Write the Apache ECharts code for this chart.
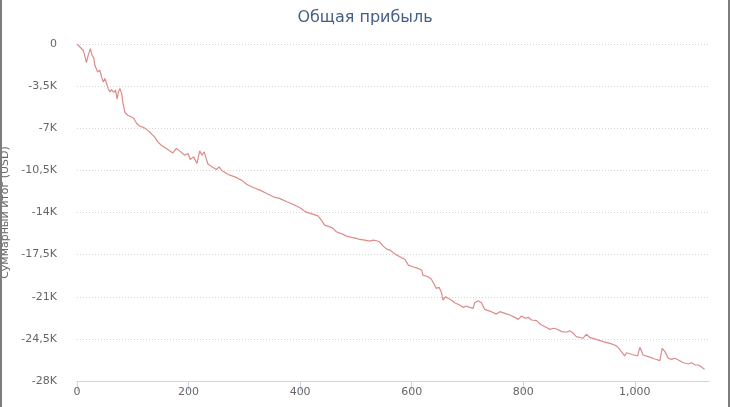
<!DOCTYPE html>
<html>
<head>
<meta charset="utf-8">
<script src="https://cdn.jsdelivr.net/npm/echarts@6/dist/echarts.min.js"></script>
<style>
  body { margin: 0; background: #fff; }
  #wrap { position: relative; width: 730px; height: 407px; overflow: hidden; }
  #chart { width: 730px; height: 407px; }
  .edge { position: absolute; top: 0; width: 2px; height: 407px; background: #7d7d7d; }
</style>
</head>
<body>
<div id="wrap">
  <div id="chart"></div>
  <div class="edge" style="left:0"></div>
  <div class="edge" style="right:0"></div>
</div>
<script>
  // trade number (x) and cumulative result in USD (y)
  var tradeNo = [0, 11, 13, 17, 20, 24, 27, 30, 32, 37, 41, 44, 47, 50, 53, 56, 59, 62, 66, 69,
    72, 74, 77, 80, 82, 86, 91, 98, 102, 107, 112, 121, 130, 139, 145, 151, 160, 172, 178, 184,
    193, 199, 203, 209, 215, 220, 224, 228, 232, 235, 244, 250, 255, 259, 268, 274, 283, 289, 295, 304,
    316, 328, 340, 355, 363, 376, 387, 399, 411, 432, 438, 444, 453, 459, 465, 477, 483, 492, 501, 507,
    516, 525, 531, 537, 542, 549, 555, 561, 570, 579, 588, 594, 602, 611, 618, 620, 629, 635, 641, 644,
    649, 653, 656, 661, 665, 671, 677, 686, 692, 698, 704, 710, 713, 719, 725, 731, 740, 752, 758, 767,
    776, 785, 791, 797, 803, 809, 815, 824, 830, 839, 848, 854, 860, 869, 878, 883, 890, 895, 907, 913,
    919, 931, 943, 955, 964, 970, 976, 982, 985, 994, 1005, 1009, 1015, 1024, 1036, 1045, 1049, 1054, 1060, 1066,
    1072, 1078, 1087, 1096, 1102, 1108, 1114, 1120, 1125];
  var cumProfit = [0, -520, -800, -1540, -940, -380, -940, -1160, -1770, -2320, -2180, -2740, -3150, -2870, -3010, -3700, -3980, -3790, -4030, -3840,
    -4590, -4030, -3700, -4120, -4810, -5690, -5920, -6060, -6190, -6610, -6810, -6970, -7300, -7720, -8130, -8410, -8680, -9050, -8680, -8880,
    -9240, -9100, -9600, -9380, -9930, -8880, -9240, -8960, -9600, -9990, -10260, -10430, -10210, -10480, -10760, -10900, -11040, -11170, -11310, -11650,
    -11920, -12140, -12420, -12750, -12830, -13110, -13310, -13580, -13970, -14280, -14630, -15050, -15190, -15320, -15600, -15820, -15960, -16070, -16150, -16240,
    -16290, -16380, -16290, -16350, -16430, -16790, -17040, -17120, -17460, -17680, -17900, -18370, -18510, -18640, -18780, -19200, -19340, -19530, -20030, -20300,
    -20220, -20580, -21270, -21000, -21130, -21270, -21500, -21690, -21880, -21770, -21880, -21960, -21500, -21330, -21500, -22050, -22190, -22440, -22240, -22380,
    -22520, -22710, -22880, -22600, -22790, -22710, -22930, -22990, -23270, -23490, -23710, -23620, -23680, -23900, -23950, -23820, -24040, -24320, -24450, -24120,
    -24370, -24540, -24730, -24870, -25010, -25200, -25560, -25920, -25650, -25780, -25920, -25200, -25840, -25980, -26170, -26310, -25280, -25560, -26110, -26200,
    -26110, -26250, -26480, -26590, -26480, -26670, -26670, -26860, -27030];
  var yTicks = [0, -3500, -7000, -10500, -14000, -17500, -21000, -24500, -28000];

  var points = tradeNo.map(function (x, i) { return [x, cumProfit[i]]; });

  function fmtK(v) {
    if (v === 0) return '0';
    return (v / 1000).toString().replace('.', ',') + 'K';
  }

  var chart = echarts.init(document.getElementById('chart'), null, { renderer: 'canvas' });
  chart.setOption({
    animation: false,
    textStyle: { fontFamily: 'DejaVu Sans' },
    title: {
      text: 'Общая прибыль',
      left: 'center',
      top: 5,
      textStyle: { fontSize: 16, fontWeight: 'normal', color: '#44608a', fontFamily: 'DejaVu Sans' }
    },
    grid: { left: 77, right: 21, top: 44, bottom: 26, outerBoundsMode: 'none', containLabel: false },
    xAxis: {
      type: 'value',
      min: 0,
      max: 1133,
      interval: 200,
      axisLine: { show: true, onZero: false, lineStyle: { color: '#ccd6eb', width: 1 } },
      axisTick: { show: true, length: 10, lineStyle: { color: '#ccd6eb' } },
      axisLabel: { color: '#666', fontSize: 11, margin: 6, showMaxLabel: false },
      splitLine: { show: false }
    },
    yAxis: {
      type: 'value',
      min: yTicks[yTicks.length - 1],
      max: yTicks[0],
      interval: 3500,
      name: 'Суммарный итог (USD)',
      nameLocation: 'middle',
      nameGap: 66,
      nameTextStyle: { color: '#666', fontSize: 11 },
      axisLine: { show: false },
      axisTick: { show: false },
      axisLabel: { color: '#666', fontSize: 11, margin: 20, formatter: fmtK },
      splitLine: { show: true, lineStyle: { color: '#d6d6d6', type: [1, 2], width: 1 } }
    },
    series: [{
      type: 'line',
      data: points,
      showSymbol: false,
      smooth: false,
      lineStyle: { color: '#dc8c89', width: 1.2 },
      itemStyle: { color: '#dc8c89' }
    }]
  });
</script>
</body>
</html>
